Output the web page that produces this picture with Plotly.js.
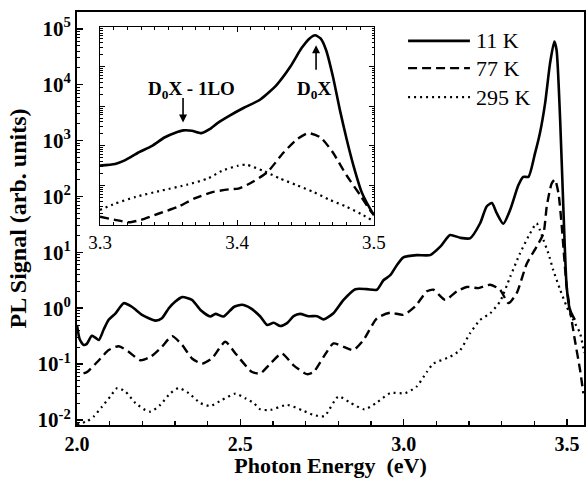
<!DOCTYPE html>
<html>
<head>
<meta charset="utf-8">
<script src="https://cdn.plot.ly/plotly-3.0.1.min.js"></script>
<style>html,body{margin:0;padding:0;background:#fff;}#chart{width:586px;height:478px;}</style>
</head>
<body>
<div id="chart"></div>
<script>
// ---- Main panel data (Photon energy eV, PL signal arb. units) ----
const seriesNames = ["11 K", "77 K", "295 K"];

const x11 = [2.000,2.008,2.020,2.030,2.045,2.055,2.067,2.082,2.097,2.118,2.143,2.169,2.199,2.240,2.260,2.281,2.301,2.322,2.352,2.378,2.408,2.424,2.449,2.480,2.505,2.531,2.561,2.582,2.602,2.622,2.643,2.663,2.683,2.709,2.735,2.755,2.785,2.816,2.852,2.887,2.918,2.938,2.959,2.979,2.999,3.040,3.081,3.112,3.142,3.173,3.203,3.234,3.254,3.270,3.285,3.305,3.326,3.351,3.366,3.382,3.402,3.417,3.433,3.448,3.461,3.468,3.479,3.489,3.499,3.509,3.524];
const y11 = [0.50,0.28,0.22,0.23,0.32,0.30,0.27,0.42,0.62,0.81,1.23,1.05,0.76,0.60,0.66,1.00,1.32,1.58,1.41,0.93,0.71,0.79,0.71,1.05,1.15,1.00,0.71,0.50,0.55,0.48,0.54,0.72,0.79,0.72,0.72,0.63,0.81,1.41,2.19,2.19,2.14,3.16,3.89,5.89,8.13,8.91,8.91,12.6,20.4,18.2,17.8,33.1,66.1,75.9,50.1,32.4,57.5,158,224,224,589,1349,4677,23990,58880,41690,2344,57.5,2.40,0.93,0.62];

const x77 = [2.020,2.031,2.067,2.097,2.128,2.158,2.194,2.225,2.260,2.291,2.322,2.352,2.383,2.413,2.454,2.485,2.536,2.561,2.592,2.627,2.663,2.704,2.724,2.755,2.785,2.816,2.846,2.877,2.918,2.959,2.999,3.035,3.071,3.091,3.127,3.163,3.193,3.229,3.265,3.295,3.321,3.346,3.377,3.407,3.428,3.438,3.453,3.463,3.474,3.484,3.499,3.514,3.524,3.540,3.550];
const y77 = [0.068,0.072,0.117,0.178,0.209,0.166,0.117,0.135,0.204,0.316,0.219,0.126,0.102,0.126,0.251,0.155,0.072,0.068,0.102,0.155,0.095,0.066,0.072,0.135,0.234,0.204,0.178,0.269,0.66,0.83,0.76,1.07,2.0,2.14,1.41,2.0,2.40,2.29,2.63,2.14,1.23,1.86,6.31,12.6,21.9,66.1,170,200,112,28.8,2.40,0.62,0.27,0.078,0.030];

const x295 = [2.000,2.031,2.051,2.077,2.102,2.123,2.148,2.179,2.209,2.225,2.255,2.286,2.311,2.342,2.378,2.408,2.444,2.485,2.515,2.541,2.561,2.592,2.643,2.694,2.724,2.757,2.800,2.836,2.880,2.915,2.959,3.005,3.040,3.071,3.091,3.142,3.173,3.203,3.234,3.265,3.295,3.326,3.356,3.387,3.407,3.417,3.428,3.443,3.458,3.479,3.499,3.519,3.540,3.552];
const y295 = [0.0083,0.0095,0.0115,0.0174,0.0263,0.0372,0.0324,0.0200,0.0151,0.0141,0.0186,0.0302,0.0372,0.0302,0.0200,0.0178,0.0229,0.0295,0.0245,0.0200,0.0155,0.0151,0.0186,0.0145,0.0123,0.0117,0.0263,0.0204,0.0155,0.0200,0.0302,0.0302,0.0398,0.0724,0.102,0.135,0.178,0.355,0.617,0.813,1.32,3.63,9.55,21.9,33.1,25.1,16.6,9.55,4.79,2.14,1.07,0.617,0.355,0.158];

// ---- Inset data ----
const xi11 = [3.300,3.311,3.318,3.328,3.338,3.347,3.355,3.361,3.367,3.374,3.380,3.386,3.394,3.405,3.417,3.429,3.439,3.447,3.453,3.457,3.461,3.465,3.470,3.475,3.480,3.485,3.491,3.497,3.500];
const yi11 = [31.6,34.7,42.7,67.6,100,162,214,245,240,209,263,380,562,912,1479,3467,10000,28840,51290,61660,51290,26300,5623,832,148,31.6,6.76,2.63,1.78];
const xi77 = [3.300,3.311,3.321,3.330,3.343,3.357,3.369,3.382,3.394,3.401,3.409,3.422,3.434,3.444,3.452,3.461,3.470,3.480,3.490,3.497,3.500];
const yi77 = [1.62,1.35,1.17,1.35,1.95,2.88,4.68,6.76,7.94,8.32,11.0,21.4,67.6,148,209,162,67.6,17.8,5.62,2.40,1.78];
const xi295 = [3.300,3.311,3.326,3.345,3.364,3.379,3.389,3.401,3.407,3.419,3.431,3.444,3.456,3.468,3.480,3.492,3.498];
const yi295 = [2.40,3.47,5.13,7.41,10.5,15.1,23.4,31.6,33.1,23.4,15.1,10.0,6.76,4.27,2.88,1.78,1.35];

// ---- Tick labels ----
const yTickVals = [1e-2,1e-1,1e0,1e1,1e2,1e3,1e4,1e5];
const yTickText = ["10<sup>-2</sup>","10<sup>-1</sup>","10<sup>0</sup>","10<sup>1</sup>","10<sup>2</sup>","10<sup>3</sup>","10<sup>4</sup>","10<sup>5</sup>"];
const xTickVals = [2.0,2.5,3.0,3.5];
const xTickText = ["2.0","2.5","3.0","3.5"];
const insetXTickVals = [3.3,3.4,3.5];
const insetXTickText = ["3.3","3.4","3.5"];
const annLabels = ["D<sub>0</sub>X - 1LO", "D<sub>0</sub>X"];

// minor log ticks (styling)
function logMinor(lo, hi){const v=[];for(let e=lo;e<hi;e++){for(let m=2;m<=9;m++)v.push(m*Math.pow(10,e));}return v;}

const serif = "Liberation Serif, Times New Roman, serif";
const styles = [
  {color:"#000", width:2.6, dash:"solid"},
  {color:"#000", width:2.4, dash:"9px,5px"},
  {color:"#000", width:2.2, dash:"2px,4px"}
];

const traces = [
  {x:x11, y:y11, name:seriesNames[0], xaxis:"x", yaxis:"y", mode:"lines", line:Object.assign({shape:"spline", smoothing:0.6}, styles[0])},
  {x:x77, y:y77, name:seriesNames[1], xaxis:"x", yaxis:"y", mode:"lines", line:Object.assign({shape:"spline", smoothing:0.6}, styles[1])},
  {x:x295, y:y295, name:seriesNames[2], xaxis:"x", yaxis:"y", mode:"lines", line:Object.assign({shape:"spline", smoothing:0.6}, styles[2])},
  {x:xi11, y:yi11, name:seriesNames[0], xaxis:"x2", yaxis:"y2", mode:"lines", showlegend:false, line:Object.assign({shape:"spline", smoothing:0.6}, styles[0])},
  {x:xi77, y:yi77, name:seriesNames[1], xaxis:"x2", yaxis:"y2", mode:"lines", showlegend:false, line:Object.assign({shape:"spline", smoothing:0.6}, styles[1])},
  {x:xi295, y:yi295, name:seriesNames[2], xaxis:"x2", yaxis:"y2", mode:"lines", showlegend:false, line:Object.assign({shape:"spline", smoothing:0.6}, styles[2])}
];

// custom legend (long line samples)
const legY = [0.930, 0.864, 0.794];
const shapes = [];
const annotations = [];
for (let i=0;i<3;i++){
  shapes.push({type:"line", xref:"paper", yref:"paper", x0:0.653, x1:0.775, y0:legY[i], y1:legY[i], line:{color:"#000", width:styles[i].width, dash:styles[i].dash}});
  annotations.push({xref:"paper", yref:"paper", x:0.783, y:legY[i], xanchor:"left", yanchor:"middle", text:seriesNames[i], showarrow:false, font:{family:serif, size:22, color:"#000"}});
}
// inset annotations
annotations.push({xref:"x2", yref:"y2", x:3.3665, y:3.42, text:annLabels[0], showarrow:false, font:{family:serif, size:19, color:"#000", weight:"bold"}});
annotations.push({xref:"x2", yref:"y2", x:3.4562, y:3.42, text:annLabels[1], showarrow:false, font:{family:serif, size:19, color:"#000", weight:"bold"}});
annotations.push({xref:"x2", yref:"y2", x:3.3606, y:2.59, ax:0, ay:-26, text:"", showarrow:true, arrowhead:2, arrowsize:1, arrowwidth:1.6, arrowcolor:"#000"});
annotations.push({xref:"x2", yref:"y2", x:3.4577, y:4.54, ax:0, ay:26, text:"", showarrow:true, arrowhead:2, arrowsize:1, arrowwidth:1.6, arrowcolor:"#000"});

const layout = {
  width:586, height:478,
  margin:{l:77, r:2, t:12, b:53},
  paper_bgcolor:"#fff", plot_bgcolor:"#fff",
  showlegend:false,
  font:{family:serif, color:"#000"},
  xaxis:{
    range:[2.0,3.552], showgrid:false, zeroline:false,
    showline:true, linewidth:2, linecolor:"#000", mirror:true,
    ticks:"inside", ticklen:6, tickwidth:1.5, tickcolor:"#000",
    tickmode:"array", tickvals:xTickVals, ticktext:xTickText,
    minor:{ticks:"inside", ticklen:4, tickwidth:1.2, tickcolor:"#000", dtick:0.1, tick0:2.0, showgrid:false},
    tickfont:{family:serif, size:20, weight:"bold", color:"#000"},
    title:{text:"Photon Energy  (eV)", font:{family:serif, size:22, weight:"bold", color:"#000"}, standoff:5}
  },
  yaxis:{
    type:"log", range:[-2.09,5.3], showgrid:false, zeroline:false,
    showline:true, linewidth:2, linecolor:"#000", mirror:true,
    ticks:"inside", ticklen:6, tickwidth:1.5, tickcolor:"#000",
    tickmode:"array", tickvals:yTickVals, ticktext:yTickText,
    minor:{ticks:"inside", ticklen:3, tickwidth:1, tickcolor:"#000", tickmode:"array", tickvals:logMinor(-3,6), showgrid:false},
    tickfont:{family:serif, size:21, weight:"bold", color:"#000"},
    title:{text:"PL Signal (arb. units)", font:{family:serif, size:24, weight:"bold", color:"#000"}, standoff:4}
  },
  xaxis2:{
    domain:[0.0454,0.5858], anchor:"y2", range:[3.3,3.5],
    showgrid:false, zeroline:false, showline:true, linewidth:1.2, linecolor:"#000", mirror:"ticks",
    ticks:"inside", ticklen:5, tickwidth:1, tickcolor:"#000",
    tickmode:"array", tickvals:insetXTickVals, ticktext:insetXTickText,
    minor:{ticks:"inside", ticklen:3, tickwidth:1, tickcolor:"#000", dtick:0.01, tick0:3.3, showgrid:false},
    tickfont:{family:serif, size:19, color:"#000"}
  },
  yaxis2:{
    domain:[0.4843,0.9637], anchor:"x2", type:"log", range:[0,5],
    showgrid:false, zeroline:false, showline:true, linewidth:1.2, linecolor:"#000", mirror:"ticks",
    ticks:"inside", ticklen:5, tickwidth:1, tickcolor:"#000",
    tickmode:"array", tickvals:[1,10,100,1000,10000,100000], showticklabels:false,
    minor:{ticks:"inside", ticklen:2.5, tickwidth:1, tickcolor:"#000", tickmode:"array", tickvals:logMinor(0,5), showgrid:false}
  },
  shapes:shapes,
  annotations:annotations
};

Plotly.newPlot("chart", traces, layout, {displayModeBar:false, staticPlot:true});
</script>
</body>
</html>
